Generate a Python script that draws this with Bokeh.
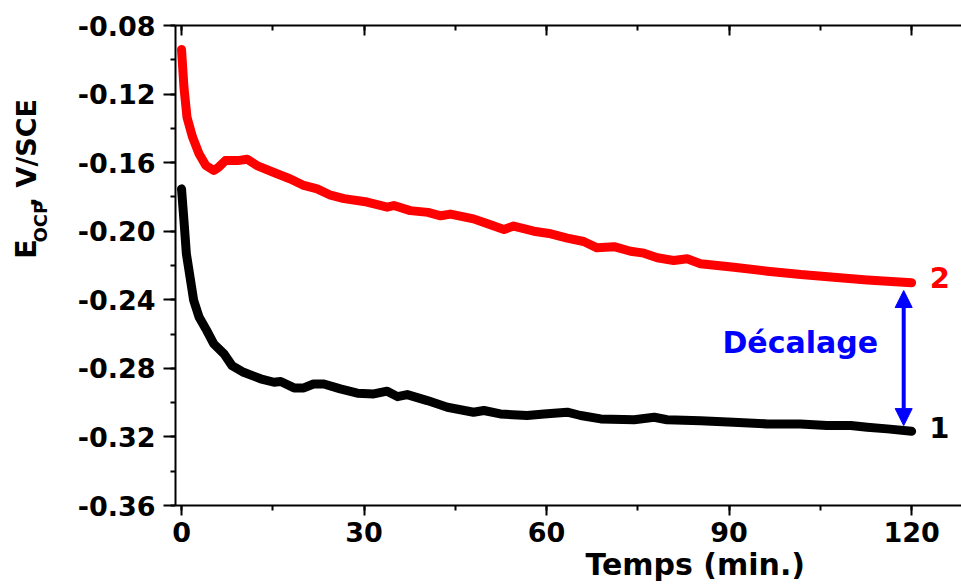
import math
from bokeh.plotting import figure
from bokeh.layouts import row
from bokeh.models import (Range1d, LinearAxis, SingleIntervalTicker, PrintfTickFormatter,
                          Label, Arrow, NormalHead, Title)
from bokeh.core.properties import value
from bokeh.embed import file_html
from bokeh.resources import INLINE

# ---- data ----
t_red = [0, 0.4, 0.9, 1.8, 2.9, 4.0, 5.3, 6.1, 7.2, 9.2, 10.8, 12.4, 15.7, 17.9, 20.1, 22.3,
         24.5, 26.7, 30.5, 33.8, 34.9, 37.6, 40.5, 42.6, 44.2, 48.0, 50.3, 53.0, 54.6, 57.9,
         60.7, 63.4, 66.1, 68.3, 71.1, 73.8, 76.0, 78.2, 80.9, 83.1, 85.3, 90.8, 96.3, 101.8,
         107.2, 112.7, 120.0]
v_red = [-0.094, -0.116, -0.1335, -0.145, -0.155, -0.1617, -0.1646, -0.1627, -0.1588, -0.1588,
         -0.158, -0.1617, -0.1665, -0.1695, -0.1733, -0.1753, -0.179, -0.181, -0.183, -0.186,
         -0.185, -0.188, -0.189, -0.191, -0.190, -0.1928, -0.1957, -0.199, -0.197, -0.200,
         -0.2015, -0.204, -0.206, -0.2097, -0.209, -0.2117, -0.2128, -0.2155, -0.2171, -0.2161,
         -0.219, -0.221, -0.2233, -0.2253, -0.2268, -0.2284, -0.2301]

t_black = [0, 0.4, 0.8, 1.4, 2.0, 2.9, 4.0, 5.3, 7.0, 8.3, 10.2, 13.0, 15.2, 16.3, 18.5, 20.1,
           21.7, 23.4, 26.1, 28.9, 31.6, 33.8, 35.5, 37.1, 40.4, 43.7, 48.0, 49.7, 52.4, 56.8,
           59.6, 63.4, 65.6, 68.9, 74.4, 77.7, 79.8, 85.3, 90.7, 96.3, 101.7, 106.1, 110.0,
           112.7, 116.0, 120.0]
v_black = [-0.1753, -0.1938, -0.2132, -0.2268, -0.2404, -0.2502, -0.257, -0.2657, -0.2716,
           -0.2784, -0.2823, -0.2861, -0.2881, -0.2877, -0.2914, -0.2914, -0.2891, -0.2891,
           -0.292, -0.2945, -0.2949, -0.2933, -0.2965, -0.2953, -0.2988, -0.3027, -0.3056,
           -0.3046, -0.3066, -0.3075, -0.3066, -0.3056, -0.3075, -0.3095, -0.310, -0.3085,
           -0.310, -0.3105, -0.3114, -0.3124, -0.3124, -0.3133, -0.3133, -0.3143, -0.3153,
           -0.3167]

x_label = "Temps (min.)"
y_label_parts = ["E", "OCP", ", V/SCE"]
shift_label = "Décalage"
curve_names = ["1", "2"]
arrow_t = 118.7

FONT = "DejaVu Sans"
W, H = 961, 584
LW = 70  # width of the strip holding the rotated y title

# ---------------- main plot ----------------
p = figure(width=W - LW, height=H, output_backend="svg", toolbar_location=None,
           x_range=Range1d(-0.99, 128.2), y_range=Range1d(-0.36, -0.08),
           min_border_left=175 - LW, min_border_right=0, min_border_top=25, min_border_bottom=79)
p.outline_line_color = None
p.background_fill_color = "white"
p.border_fill_color = "white"
p.xgrid.visible = False
p.ygrid.visible = False

xa = p.xaxis[0]
xa.ticker = SingleIntervalTicker(interval=30, num_minor_ticks=2)
xa.major_tick_out = 10
xa.major_tick_in = 0
xa.minor_tick_out = 5
xa.minor_tick_in = 0
xa.major_label_standoff = 6

ya = p.yaxis[0]
ya.ticker = SingleIntervalTicker(interval=0.04, num_minor_ticks=2)
ya.formatter = PrintfTickFormatter(format="%.2f")
ya.major_tick_out = 12
ya.major_tick_in = 0
ya.minor_tick_out = 5
ya.minor_tick_in = 0
ya.major_label_standoff = 8

for ax in (xa, ya):
    ax.axis_line_width = 2
    ax.major_tick_line_width = 2
    ax.minor_tick_line_width = 2
    ax.axis_line_color = "black"
    ax.major_tick_line_color = "black"
    ax.minor_tick_line_color = "black"
    ax.major_label_text_font = FONT
    ax.major_label_text_font_style = "bold"
    ax.major_label_text_font_size = "27px"
    ax.major_label_text_color = "black"

top = LinearAxis(ticker=SingleIntervalTicker(interval=30, num_minor_ticks=2))
top.major_label_text_font_size = "0px"
top.major_label_standoff = 0
top.major_tick_in = 10
top.major_tick_out = 0
top.minor_tick_in = 5
top.minor_tick_out = 0
top.axis_line_width = 2
top.major_tick_line_width = 2
top.minor_tick_line_width = 2
p.add_layout(top, "above")

# x title below the axis, shifted right like the original
p.add_layout(Title(text=x_label, align="left", offset=410, standoff=0, vertical_align="bottom",
                   text_font=FONT, text_font_style="bold", text_font_size="30px",
                   text_color="black"), "below")

p.line(t_red, v_red, line_color="#ff0000", line_width=9, line_cap="round", line_join="round")
p.line(t_black, v_black, line_color="black", line_width=9, line_cap="round", line_join="round")

p.add_layout(Arrow(x_start=arrow_t, y_start=v_red[-1] - 0.0045, x_end=arrow_t, y_end=v_black[-1] + 0.0033,
                   line_color="#0000ff", line_width=4,
                   start=NormalHead(size=17, fill_color="#0000ff", line_color="#0000ff"),
                   end=NormalHead(size=17, fill_color="#0000ff", line_color="#0000ff")))

dy = 0.0065
p.add_layout(Label(x=88.9, y=-0.2716 + dy, text=shift_label, text_font=FONT, text_font_style="bold",
                   text_font_size="30px", text_color="#0000ff", text_align="left",
                   text_baseline="alphabetic"))
p.add_layout(Label(x=123.0, y=v_red[-1] - 0.0045 + dy + 0.001, text=curve_names[1], text_font=FONT,
                   text_font_style="bold", text_font_size="29px", text_color="#ff0000",
                   text_align="left", text_baseline="alphabetic"))
p.add_layout(Label(x=122.9, y=v_black[-1] - 0.0045 + dy, text=curve_names[0], text_font=FONT,
                   text_font_style="bold", text_font_size="29px", text_color="black",
                   text_align="left", text_baseline="alphabetic"))

# ---------------- strip with the rotated y title ----------------
q = figure(width=LW, height=H, output_backend="svg", toolbar_location=None,
           x_range=Range1d(0, LW), y_range=Range1d(0, H),
           x_axis_type=None, y_axis_type=None,
           min_border_left=0, min_border_right=0, min_border_top=0, min_border_bottom=0)
q.outline_line_color = None
q.xgrid.visible = False
q.ygrid.visible = False
q.background_fill_color = "white"
q.border_fill_color = "white"

ang = math.pi / 2
sizes = ["29px", "18px", "27px"]
xs = [37 - 11.6, 47 - 7.2, 37 - 10.8]
ys_top = [262 + 22, 240 + 24, 199 + 22]
for txt, sz, xx, yy in zip(y_label_parts, sizes, xs, ys_top):
    q.text(x=[xx], y=[H - yy], text=[txt], angle=ang, text_font=value(FONT),
           text_font_style="bold", text_font_size=sz, text_color="black",
           text_align="left", text_baseline="alphabetic")

layout = row(q, p, spacing=0)
open("out.html", "w").write(file_html(layout, INLINE))
